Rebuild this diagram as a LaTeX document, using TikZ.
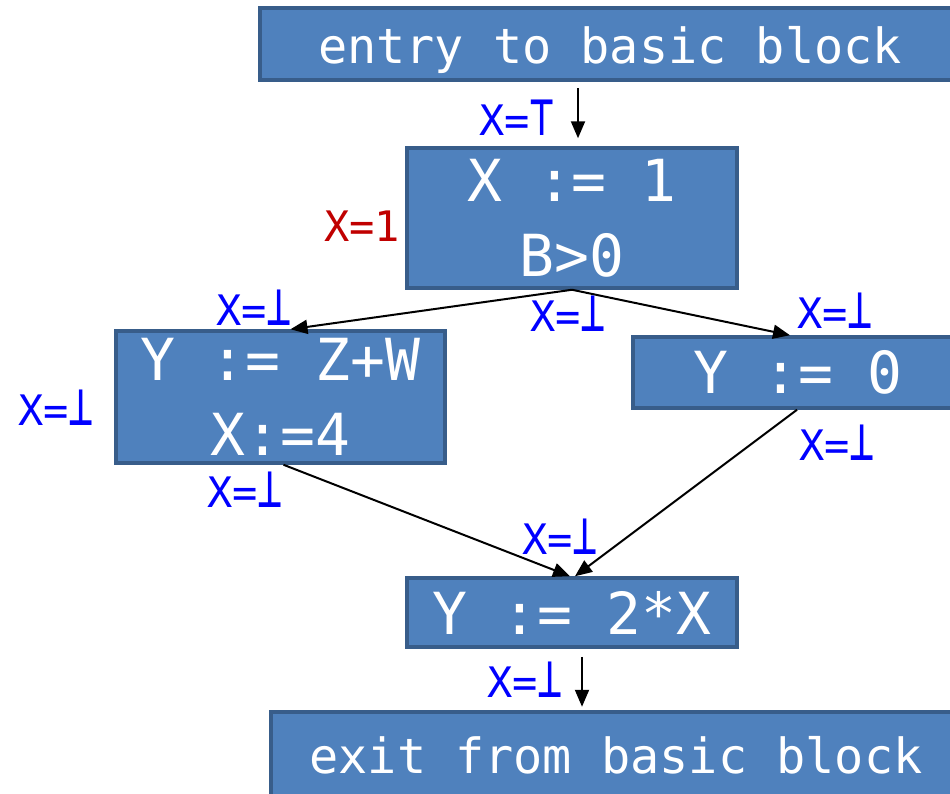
\documentclass[tikz,border=0pt]{standalone}
\usepackage{fontspec}
\usepackage{graphicx}
\setmonofont{DejaVu Sans Mono}
\usetikzlibrary{arrows.meta}
\definecolor{boxfill}{HTML}{4F81BD}
\definecolor{boxline}{HTML}{385D8A}
\definecolor{lblue}{HTML}{0000FF}
\definecolor{lred}{HTML}{C00000}
\newcommand\mybot{\scalebox{1}[1.35]{⊥}}
\newcommand\mytop{\scalebox{1}[1.35]{⊤}}
\tikzset{
  blk/.style={rectangle, fill=boxfill, draw=boxline, line width=3.5pt, text=white,
    inner sep=0pt, align=center, font=\ttfamily\fontsize{58}{75}\selectfont},
  blkbig/.style={blk, font=\ttfamily\fontsize{48.5}{60}\selectfont},
  lbl/.style={text=lblue, inner sep=0pt, font=\ttfamily\fontsize{42}{50}\selectfont},
  arr/.style={draw=black, line width=2pt, -{Triangle[length=17pt,width=14pt]}}
}
\begin{document}
\begin{tikzpicture}[x=1pt,y=-1pt]
\useasboundingbox (0,0) rectangle (950,793);
\clip (0,0) rectangle (950,793);
% blocks
\node[blkbig, minimum width=700pt, minimum height=72pt, text height=50pt, text depth=12pt] (entry) at (610,44) {entry to basic block};
\node[blk, minimum width=330pt, minimum height=140pt] (b1) at (572,218) {X := 1\\B>0};
\node[blk, minimum width=329pt, minimum height=132pt] (lb) at (280.5,397) {Y := Z+W\\X:=4};
\node[blk, minimum width=330pt, minimum height=71pt] (rb) at (798,372.5) {Y := 0};
\node[blk, minimum width=330pt, minimum height=69pt] (bb) at (572,612.5) {Y := 2*X};
\node[blkbig, minimum width=690pt, minimum height=86pt] (exit) at (616,755) {exit from basic block};
% free ends
\coordinate (e1) at ([xshift=6pt,yshift=58pt]b1.north);
\coordinate (e2) at ([xshift=6pt,yshift=8pt]b1.north);
\coordinate (f1) at ([xshift=10pt,yshift=-8pt]bb.south);
\coordinate (f2) at ([xshift=10pt,yshift=-58pt]bb.south);
% connectors
\draw[arr] (e1) -- (e2);
\draw[arr] (b1.south) -- ([xshift=10pt]lb.north);
\draw[arr] (b1.south) -- ([xshift=-8pt]rb.north);
\draw[arr] ([xshift=3pt]lb.south) -- ([xshift=-2pt]bb.north);
\draw[arr] ([xshift=-1pt]rb.south) -- ([xshift=3pt]bb.north);
\draw[arr] (f1) -- (f2);
% labels
\node[lbl] (l0) at (517,118) {X=\mytop};
\node[lbl, text=lred] (l1) at (362,226) {X=1};
\node[lbl] (l2) at (254,308) {X=\mybot};
\node[lbl] (l3) at (568,314) {X=\mybot};
\node[lbl] (l4) at (835,311) {X=\mybot};
\node[lbl] (l5) at (56,408) {X=\mybot};
\node[lbl] (l6) at (837,443) {X=\mybot};
\node[lbl] (l7) at (245,490) {X=\mybot};
\node[lbl] (l8) at (560,537) {X=\mybot};
\node[lbl] (l9) at (525,680) {X=\mybot};
\end{tikzpicture}
\end{document}
